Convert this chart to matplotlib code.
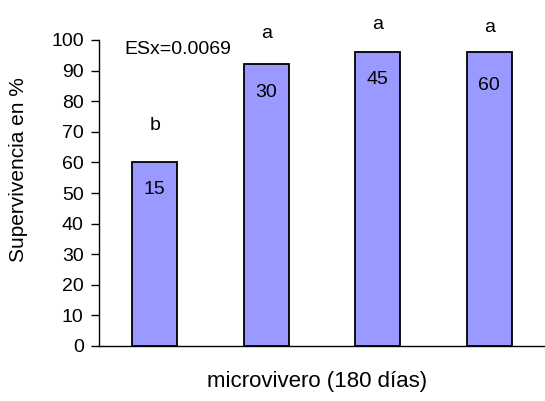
import matplotlib
matplotlib.use("Agg")
import matplotlib.pyplot as plt

categories = ["15", "30", "45", "60"]
survival = [60, 92, 96, 96]
letters = ["b", "a", "a", "a"]
letter_y = [72, 102, 105, 104]
inner_y = [51, 83, 87, 85]
yticks = list(range(0, 101, 10))

plt.rcParams['font.family'] = ['Liberation Sans', 'DejaVu Sans']
fig = plt.figure(figsize=(5.45, 4.01), dpi=100)
ax = fig.add_axes([99/545, 1-346/401, (545-99)/545, (346-40)/401])

x = list(range(len(categories)))
ax.bar(x, survival, width=0.4, color="#9999FF", edgecolor="black", linewidth=1.3, zorder=2)
for xi, lab, ly in zip(x, categories, inner_y):
    ax.text(xi, ly, lab, ha="center", va="center", fontsize=14)
for xi, lt, ly in zip(x, letters, letter_y):
    ax.text(xi, ly, lt, ha="center", va="center", fontsize=14, clip_on=False)
ax.text(-0.275, 96.9, "ESx=0.0069", ha="left", va="center", fontsize=14)

ax.set_xlim(-0.5, 3.5)
ax.set_ylim(0, 100)
ax.set_yticks(yticks)
ax.set_xticks([])
ax.tick_params(axis="y", direction="out", length=6, labelsize=14, width=1, pad=5)
for s in ["top", "right"]:
    ax.spines[s].set_visible(False)
ax.spines["left"].set_linewidth(1)
ax.spines["bottom"].set_linewidth(1)
ax.set_ylabel("Supervivencia en %", fontsize=15)
ax.yaxis.label.set_va("center")
ax.yaxis.set_label_coords((19-99)/446, (346-169.5)/306)
ax.set_xlabel("microvivero (180 días)", fontsize=16)
ax.xaxis.label.set_va("center")
ax.xaxis.set_label_coords((317-99)/446, (346-382)/306)
fig.savefig("out.png", dpi=100)
